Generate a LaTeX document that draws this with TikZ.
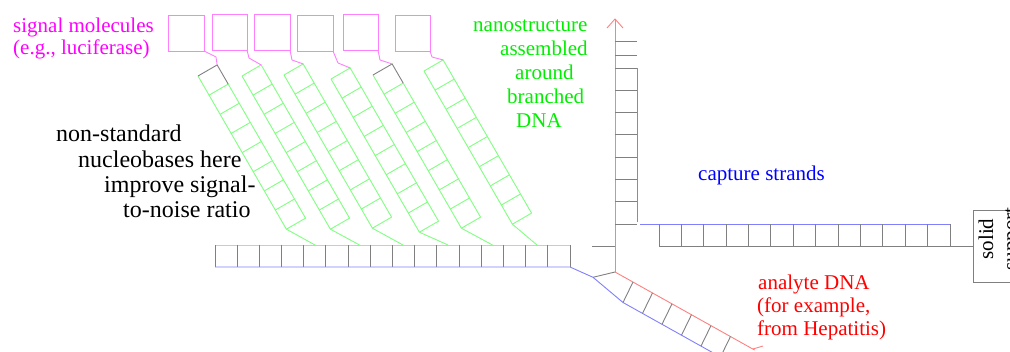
\documentclass[tikz,border=0pt]{standalone}
\usepackage{fontspec}
\setmainfont{Liberation Serif}
\newfontfamily\tnr{Liberation Serif}
\usetikzlibrary{calc}
\definecolor{pinkl}{HTML}{FF80FF}
\definecolor{pinkt}{HTML}{FF00FF}
\definecolor{greenl}{HTML}{80FF80}
\definecolor{greent}{HTML}{00EE00}
\definecolor{bluel}{HTML}{8080FF}
\definecolor{bluet}{HTML}{0000FF}
\definecolor{redl}{HTML}{FF8080}
\definecolor{redt}{HTML}{FF0000}
\definecolor{grayl}{HTML}{808080}
\begin{document}
\begin{tikzpicture}[x=1pt,y=-1pt,
  gl/.style={draw=greenl,line width=0.9pt},
  bl/.style={draw=bluel,line width=0.9pt},
  rl/.style={draw=redl,line width=0.9pt},
  gr/.style={draw=grayl,line width=0.9pt},
  pl/.style={draw=pinkl,line width=0.9pt},
  lbl/.style={anchor=base west,inner sep=0pt,font=\tnr\fontsize{21}{24}\selectfont},
  lblb/.style={anchor=base west,inner sep=0pt,font=\tnr\fontsize{24}{26}\selectfont}]
\useasboundingbox (0,0) rectangle (1010,352);
\clip (0,0) rectangle (1010,352);

% bottom horizontal ladder
\draw[gl] (215,245) -- (570,245);
\foreach \i in {0,...,16} \draw[gr] (215+22.1875*\i,245) -- (215+22.1875*\i,267);
\coordinate (hr) at (570,267);
\coordinate (j1) at (593,277.3);
\coordinate (j2) at (623,302.5);
\draw[bl] (215,267) -- (hr) -- (j1) -- (j2) -- ($(j2)+(200*0.873,200*0.488)$);

% branches
\foreach \X/\Y/\tc/\C/\ax/\ay/\bx/\by/\px/\py [count=\i] in {
  198/76/grayl/315/168/15/204/51/216/57,
  242/76/greenl/359.5/212/14/247/50/249/58,
  284/75/greenl/403/254/14/290/50/292/60,
  331/79/greenl/448/297/15/333/51/338/63,
  373/75/grayl/492.5/343/14/378/50/380/60,
  424/71/greenl/537/395/15/430/51/432/57} {
  \coordinate (TL\i) at (\X,\Y);
  \coordinate (TR\i) at ($(TL\i)+(19.15,-11.05)$);
  \coordinate (BL\i) at ($(TL\i)+8*(11.05,19.15)$);
  \coordinate (BR\i) at ($(TR\i)+8*(11.05,19.15)$);
  \coordinate (S\i) at ($(TR\i)+(11.05,19.15)$);
  \coordinate (C\i) at (\C,245);
  \draw[gl] (TL\i) -- (BL\i);
  \draw[gl] (S\i) -- (BR\i);
  \foreach \k in {1,...,8}
    \draw[gl] ($(TL\i)+\k*(11.05,19.15)$) -- ($(TR\i)+\k*(11.05,19.15)$);
  \draw[draw=\tc,line width=0.9pt] (TL\i) -- (TR\i) -- (S\i);
  \draw[gl] (BL\i) -- (C\i);
  \draw[pl] (\ax,\ay) rectangle (\bx,\by);
  \draw[pl] (\bx,\by) -- (\px,\py) -- (TR\i);
}

% vertical stem
\coordinate (R0) at (615,272);
\coordinate (Rtop) at (615,19);
\draw[rl] (R0) -- (Rtop);
\draw[rl] (607,28) -- (Rtop) -- (623,28);
\draw[gr] (j1) -- (R0);
\draw[gr] (592,246.7) -- (615,246.7);
\foreach \y in {41,55,68,90.29,112.57,134.86,157.14,179.43,201.71,224}
  \draw[gr] (615,\y) -- (637,\y);
\draw[bl] (637,68) -- (637,222);
\draw[bl] (640,224) -- (950,224);
\foreach \k in {0,...,13} \draw[gr] (659+22.385*\k,224) -- (659+22.385*\k,246);
\draw[gr] (659,246) -- (973,246);
\draw[gr] (973,210) rectangle (1050,282);
\node[rotate=90,align=center,inner sep=0pt,font=\tnr\fontsize{21}{24}\selectfont] (solid) at (1000,239) {solid\\support};

% analyte strand
\coordinate (Rend) at (753,349);
\draw[rl] (R0) -- ($(R0)+(160*0.873,160*0.488)$);
\draw[rl] (Rend) -- (763,346);
\foreach \k in {0,...,5} {
  \pgfmathsetmacro\tx{633+19.5*\k}
  \pgfmathsetmacro\ty{272+(\tx-615)*0.558}
  \draw[gr] (\tx,\ty) -- ++(-10,20.5);
}

% labels
\node[lbl,text=pinkt] (s1) at (13,33) {signal molecules};
\node[lbl,text=pinkt] (s2) at (13,55) {(e.g., luciferase)};
\node[lblb] (n1) at (56,142) {non-standard};
\node[lblb] (n2) at (78,168) {nucleobases here};
\node[lblb] (n3) at (104,193) {improve signal-};
\node[lblb] (n4) at (123,218) {to-noise ratio};
\node[lbl,text=greent] (g1) at (473,32) {nanostructure};
\node[lbl,text=greent] (g2) at (500,56) {assembled};
\node[lbl,text=greent] (g3) at (515,80) {around};
\node[lbl,text=greent] (g4) at (507,104) {branched};
\node[lbl,text=greent] (g5) at (516,128) {DNA};
\node[lbl,text=bluet] (c1) at (698,181) {capture strands};
\node[lbl,text=redt] (a1) at (758,290) {analyte DNA};
\node[lbl,text=redt] (a2) at (757,313) {(for example,};
\node[lbl,text=redt] (a3) at (757,336) {from Hepatitis)};
\end{tikzpicture}
\end{document}
